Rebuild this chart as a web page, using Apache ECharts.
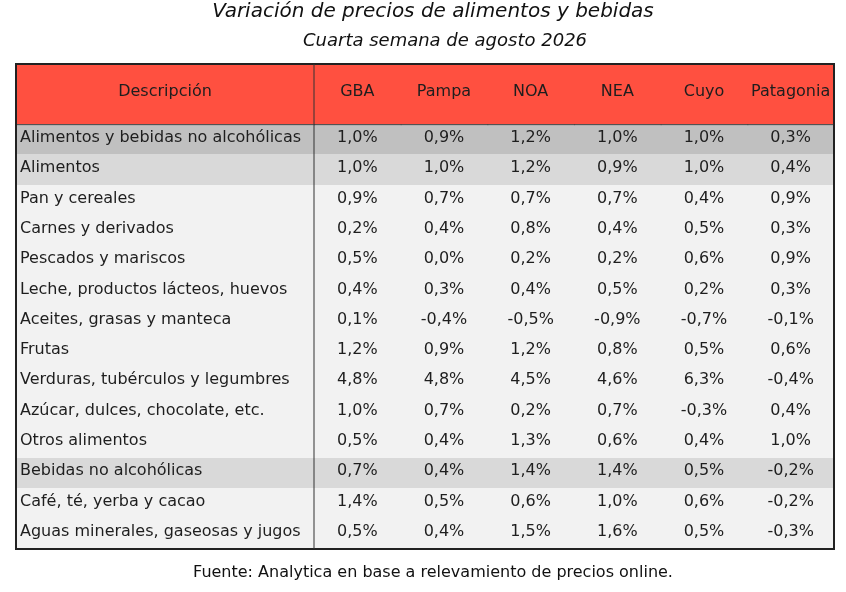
<!DOCTYPE html>
<html>
<head>
<meta charset="utf-8">
<script src="https://cdn.jsdelivr.net/npm/echarts@6/dist/echarts.min.js"></script>
<style>
  html, body { margin: 0; padding: 0; background: #fff; }
  #tabla { width: 846px; height: 592px; }
</style>
</head>
<body>
<div id="tabla"></div>
<script>
// Variación semanal de precios por región
var regiones = ['GBA', 'Pampa', 'NOA', 'NEA', 'Cuyo', 'Patagonia'];
var descripciones = [
    'Alimentos y bebidas no alcohólicas',
    'Alimentos',
    'Pan y cereales',
    'Carnes y derivados',
    'Pescados y mariscos',
    'Leche, productos lácteos, huevos',
    'Aceites, grasas y manteca',
    'Frutas',
    'Verduras, tubérculos y legumbres',
    'Azúcar, dulces, chocolate, etc.',
    'Otros alimentos',
    'Bebidas no alcohólicas',
    'Café, té, yerba y cacao',
    'Aguas minerales, gaseosas y jugos'
];
// 0 = total, 1 = subtotal, 2 = rubro
var niveles = [0, 1, 2, 2, 2, 2, 2, 2, 2, 2, 2, 1, 2, 2];

var gba       = [1.0, 1.0, 0.9, 0.2, 0.5, 0.4, 0.1, 1.2, 4.8, 1.0, 0.5, 0.7, 1.4, 0.5];
var pampa     = [0.9, 1.0, 0.7, 0.4, 0.0, 0.3, -0.4, 0.9, 4.8, 0.7, 0.4, 0.4, 0.5, 0.4];
var noa       = [1.2, 1.2, 0.7, 0.8, 0.2, 0.4, -0.5, 1.2, 4.5, 0.2, 1.3, 1.4, 0.6, 1.5];
var nea       = [1.0, 0.9, 0.7, 0.4, 0.2, 0.5, -0.9, 0.8, 4.6, 0.7, 0.6, 1.4, 1.0, 1.6];
var cuyo      = [1.0, 1.0, 0.4, 0.5, 0.6, 0.2, -0.7, 0.5, 6.3, -0.3, 0.4, 0.5, 0.6, 0.5];
var patagonia = [0.3, 0.4, 0.9, 0.3, 0.9, 0.3, -0.1, 0.6, -0.4, 0.4, 1.0, -0.2, -0.2, -0.3];

var valores = [gba, pampa, noa, nea, cuyo, patagonia];

var FUENTE = '"DejaVu Sans", "Noto Sans", sans-serif';
var ROJO = '#ff5040';
var fondos = ['#c0c0c0', '#d9d9d9', '#f2f2f2'];
var ALTO_CAB = 2;   // la cabecera ocupa dos filas

function fmt(v) {
    return v.toFixed(1).replace('.', ',') + '%';
}

// datos para las series: [columna, yInicio, yFin, texto, nivel]
var datosDesc = [[0, 0, ALTO_CAB, 'Descripción', -1]];
descripciones.forEach(function(d, i) {
    datosDesc.push([0, ALTO_CAB + i, ALTO_CAB + i + 1, d, niveles[i]]);
});
var datosVal = [];
regiones.forEach(function(r, j) {
    datosVal.push([j, 0, ALTO_CAB, r, -1]);
    valores[j].forEach(function(v, i) {
        datosVal.push([j, ALTO_CAB + i, ALTO_CAB + i + 1, fmt(v), niveles[i]]);
    });
});

function celda(alinear) {
    return function(params, api) {
        var col = api.value(0);
        var p0 = api.coord([col, api.value(1)]);
        var p1 = api.coord([col, api.value(2)]);
        var w = api.size([1, 0])[0];
        var x = p0[0] - w / 2;
        var y = p0[1];
        var h = p1[1] - p0[1];
        var nivel = api.value(4);
        var cab = nivel === -1;
        var hijos = [{
            type: 'rect',
            // se solapan un poco para que no queden costuras entre celdas
            shape: { x: Math.floor(x), y: Math.floor(y), width: Math.ceil(w) + 1, height: Math.ceil(h) + 1 },
            style: { fill: cab ? ROJO : fondos[nivel] }
        }];
        if (cab) {
            hijos.push({
                type: 'line',
                z2: 5,
                shape: { x1: x, y1: y + h, x2: x + w + 1, y2: y + h },
                style: { stroke: '#444', lineWidth: 1 }
            });
        }
        var izq = alinear === 'left' && !cab;
        hijos.push({
            type: 'text',
            z2: 10,
            style: {
                text: api.value(3),
                x: izq ? x + 4 : x + w / 2,
                y: y + h / 2 - 2,
                align: izq ? 'left' : 'center',
                verticalAlign: 'middle',
                fill: '#1e1e1e',
                font: '16px ' + FUENTE
            }
        });
        return { type: 'group', children: hijos };
    };
}

var myChart = echarts.init(document.getElementById('tabla'));
myChart.setOption({
    backgroundColor: '#fff',
    animation: false,
    grid: [
        { left: 16, top: 64, width: 298, height: 485 },
        { left: 314, top: 64, width: 520, height: 485 }
    ],
    xAxis: [
        { type: 'category', gridIndex: 0, data: ['Descripción'], show: false },
        { type: 'category', gridIndex: 1, data: regiones, show: false }
    ],
    yAxis: [
        { type: 'value', gridIndex: 0, min: 0, max: ALTO_CAB + descripciones.length, inverse: true, show: false },
        { type: 'value', gridIndex: 1, min: 0, max: ALTO_CAB + descripciones.length, inverse: true, show: false }
    ],
    series: [
        {
            name: 'descripcion',
            type: 'custom',
            xAxisIndex: 0,
            yAxisIndex: 0,
            renderItem: celda('left'),
            data: datosDesc
        },
        {
            name: 'variacion',
            type: 'custom',
            xAxisIndex: 1,
            yAxisIndex: 1,
            renderItem: celda('center'),
            data: datosVal
        }
    ],
    graphic: [
        {
            type: 'text', z: 10,
            style: {
                text: 'Variación de precios de alimentos y bebidas',
                font: 'italic 20px ' + FUENTE, fill: '#111',
                x: 433, y: 12, align: 'center', verticalAlign: 'middle'
            }
        },
        {
            type: 'text', z: 10,
            style: {
                text: 'Cuarta semana de agosto 2026',
                font: 'italic 18px ' + FUENTE, fill: '#111',
                x: 445, y: 41, align: 'center', verticalAlign: 'middle'
            }
        },
        {
            type: 'text', z: 10,
            style: {
                text: 'Fuente: Analytica en base a relevamiento de precios online.',
                font: '16px ' + FUENTE, fill: '#111',
                x: 433, y: 573, align: 'center', verticalAlign: 'middle'
            }
        },
        // bordes de la tabla
        {
            type: 'rect', z: 100,
            shape: { x: 16, y: 64, width: 818, height: 485 },
            style: { fill: 'none', stroke: '#222', lineWidth: 2 }
        },
        {
            type: 'line', z: 100,
            shape: { x1: 314, y1: 64, x2: 314, y2: 549 },
            style: { stroke: '#333', lineWidth: 1 }
        }
    ]
});
</script>
</body>
</html>
